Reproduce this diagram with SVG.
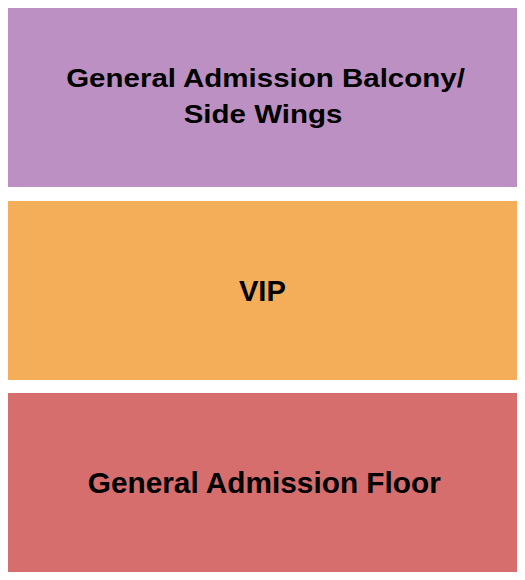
<svg xmlns="http://www.w3.org/2000/svg" width="525" height="580" viewBox="0 0 525 580">
<style>
.lbl{font-family:"Liberation Sans",Arial,sans-serif;font-weight:bold;fill:#000;text-anchor:middle}
</style>
<rect width="525" height="580" fill="#fff"/>
<g id="balcony">
<rect x="8" y="8" width="509" height="179" fill="#BC90C2"/>
<text class="lbl" transform="translate(265.5 87.3) scale(1 0.85)" x="0" y="0" font-size="29.5">General Admission Balcony/</text>
<text class="lbl" transform="translate(263 123.3) scale(1 0.85)" x="0" y="0" font-size="29.5">Side Wings</text>
</g>
<g id="vip">
<rect x="8" y="201" width="509" height="179" fill="#F4AE5A"/>
<text class="lbl" x="262.4" y="300.5" font-size="30" textLength="47" lengthAdjust="spacingAndGlyphs">VIP</text>
</g>
<g id="floor">
<rect x="8" y="393" width="509" height="179" fill="#D66E6E"/>
<text class="lbl" x="264.3" y="492.5" font-size="29.5" textLength="353" lengthAdjust="spacingAndGlyphs">General Admission Floor</text>
</g>
<g id="connectors"/>
</svg>
